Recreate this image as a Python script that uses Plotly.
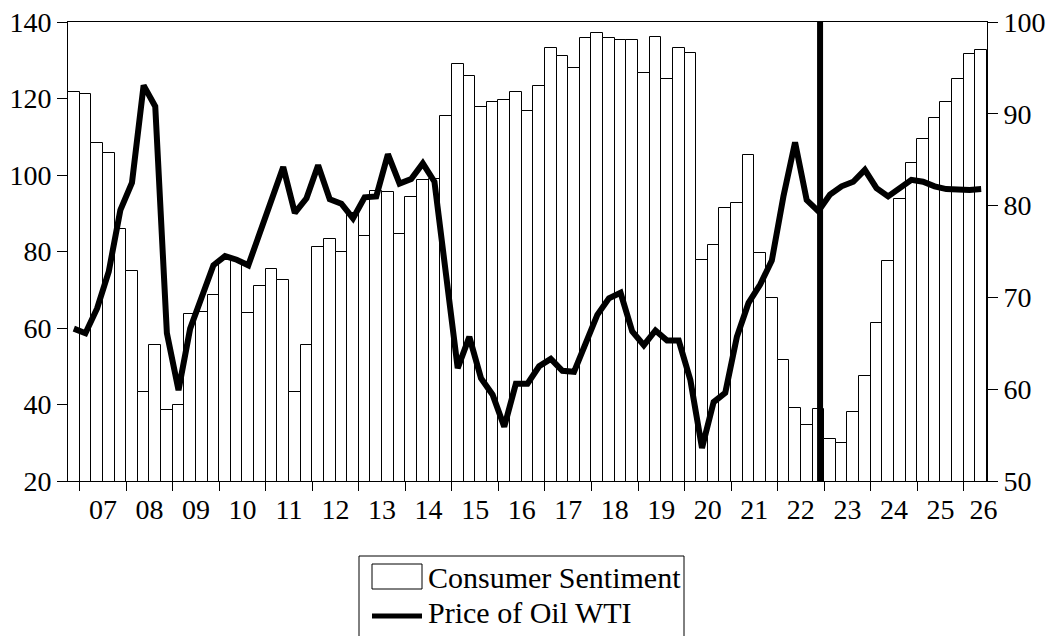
import plotly.graph_objects as go

# Quarterly observations, 2006Q4 .. 2026Q2
start_year, start_q = 2006, 4
sentiment = [121.8, 121.1, 108.4, 105.7, 86.0, 75.0, 43.2, 55.6, 38.5, 39.9,
             63.7, 64.3, 68.5, 77.8, 77.5, 64.0, 71.1, 75.5, 72.5, 43.3,
             55.6, 81.2, 83.2, 79.9, 90.0, 84.0, 95.9, 95.6, 84.7, 94.2,
             98.7, 99.0, 115.3, 129.1, 126.0, 117.7, 119.0, 119.7, 121.6, 116.8,
             123.3, 133.2, 131.1, 128.1, 135.9, 137.2, 135.9, 135.2, 135.4, 126.7,
             136.1, 125.0, 133.1, 131.8, 77.9, 81.7, 91.5, 92.6, 105.3, 79.5,
             67.8, 51.6, 39.1, 34.7, 38.9, 31.1, 29.9, 38.0, 47.5, 61.3,
             77.5, 93.7, 103.1, 109.3, 114.9, 119.1, 125.1, 131.7, 132.7]
oil_wti = [66.6, 66.1, 68.8, 72.8, 79.5, 82.5, 93.1, 90.8, 66.1, 59.9,
           66.6, 70.1, 73.5, 74.5, 74.1, 73.5, 77.2, 80.8, 84.2, 79.2,
           80.8, 84.4, 80.7, 80.2, 78.6, 80.9, 81.0, 85.6, 82.4, 82.9,
           84.6, 82.6, 72.3, 62.3, 65.7, 61.2, 59.4, 55.9, 60.6, 60.6,
           62.5, 63.3, 62.0, 61.9, 65.0, 68.1, 69.9, 70.5, 66.3, 64.8,
           66.4, 65.3, 65.3, 61.0, 53.6, 58.6, 59.6, 65.7, 69.4, 71.4,
           74.0, 81.0, 86.9, 80.6, 79.4, 81.2, 82.1, 82.6, 83.9, 81.9,
           81.0, 81.9, 82.8, 82.6, 82.1, 81.8, 81.7, 81.7, 81.8]
year_labels = ["07", "08", "09", "10", "11", "12", "13", "14", "15", "16",
               "17", "18", "19", "20", "21", "22", "23", "24", "25", "26"]
left_ticks = [20, 40, 60, 80, 100, 120, 140]
right_ticks = [50, 60, 70, 80, 90, 100]
series_names = ["Consumer Sentiment", "Price of Oil WTI"]
marker_quarter = "2022Q4"

n = len(sentiment)
x = list(range(n))
quarters = []
yy, qq = start_year, start_q
for _ in range(n):
    quarters.append(f"{yy}Q{qq}")
    qq += 1
    if qq > 4:
        qq = 1
        yy += 1

first_q1 = quarters.index("2007Q1")
year_start = [first_q1 + 4 * i for i in range(len(year_labels))]
label_pos = [min(s + 1.5, n - 0.8) for s in year_start]
boundaries = [s - 0.5 for s in year_start]
vline_x = quarters.index(marker_quarter) + 0.15

FONT = "Liberation Serif, Times New Roman, Tinos, DejaVu Serif, serif"
OFF = 8  # default page body margin
W, H = 1055 - OFF, 636 - OFF
L, R, T, B = 60, 68, 14, 155
PW, PH = W - L - R, H - T - B


def px(v):
    # page pixel -> paper x
    return (v - OFF - L) / PW


def py(v):
    # page pixel -> paper y
    return (H - B - (v - OFF)) / PH


fig = go.Figure()
fig.add_trace(go.Bar(
    x=x, y=sentiment, name=series_names[0],
    marker=dict(color="white", line=dict(color="black", width=1)),
    width=1.0, yaxis="y", customdata=quarters, showlegend=False,
))
fig.add_trace(go.Scatter(
    x=x, y=oil_wti, name=series_names[1], mode="lines",
    line=dict(color="black", width=6), yaxis="y2", customdata=quarters,
    showlegend=False,
))

fig.add_shape(type="line", xref="x", yref="paper", x0=vline_x, x1=vline_x,
              y0=0, y1=1, line=dict(color="black", width=6))

# legend box
fig.add_shape(type="rect", xref="paper", yref="paper",
              x0=px(359), x1=px(684), y0=py(660), y1=py(556),
              line=dict(color="black", width=1), fillcolor="white")
fig.add_shape(type="rect", xref="paper", yref="paper",
              x0=px(372), x1=px(422), y0=py(589), y1=py(564),
              line=dict(color="black", width=1), fillcolor="white")
fig.add_shape(type="line", xref="paper", yref="paper",
              x0=px(372), x1=px(422), y0=py(616), y1=py(616),
              line=dict(color="black", width=5))
for name, cy in zip(series_names, [577, 612]):
    fig.add_annotation(x=px(426), y=py(cy), xref="paper", yref="paper",
                       text=name, showarrow=False, xanchor="left",
                       yanchor="middle",
                       font=dict(family=FONT, size=30, color="black"))

axis_common = dict(
    ticks="outside", tickcolor="black", ticklabeloverflow="allow",
    showline=True, linecolor="black", linewidth=1,
    showgrid=False, zeroline=False, automargin=False,
    tickfont=dict(family=FONT, size=28, color="black"),
)

fig.update_layout(
    width=W, height=H,
    margin=dict(l=L, r=R, t=T, b=B, autoexpand=False),
    paper_bgcolor="white", plot_bgcolor="white",
    font=dict(family=FONT, size=28, color="black"),
    bargap=0,
    showlegend=False,
    xaxis=dict(
        range=[-0.5, n - 0.5],
        tickmode="array", tickvals=label_pos, ticktext=year_labels,
        ticklen=0, ticklabelstandoff=3, mirror=True,
        minor=dict(tickmode="array", tickvals=boundaries, ticks="outside",
                   ticklen=9, tickcolor="black", tickwidth=1, showgrid=False),
        **axis_common,
    ),
    yaxis=dict(
        range=[20, 140], tickmode="array", tickvals=left_ticks,
        ticklen=10, **axis_common,
    ),
    yaxis2=dict(
        range=[50, 100], tickmode="array", tickvals=right_ticks,
        overlaying="y", side="right", ticklen=10, **axis_common,
    ),
)

fig.write_html("out.html")
